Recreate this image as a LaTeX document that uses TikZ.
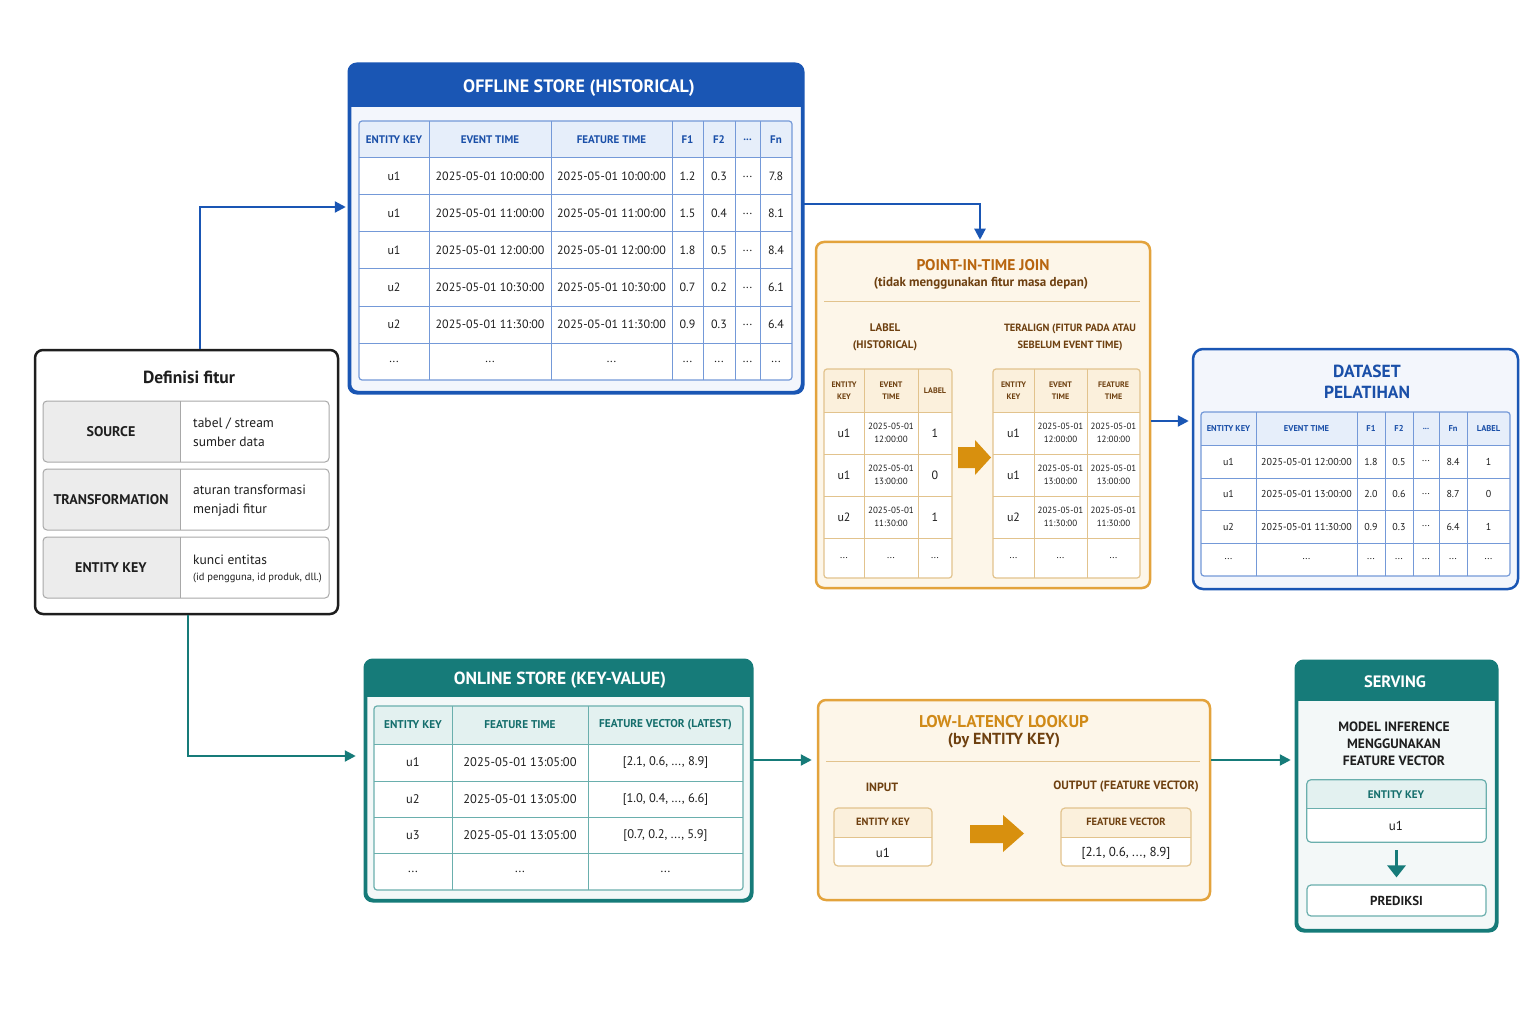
\documentclass[tikz,border=0pt]{standalone}
\usepackage{fontspec}
\setmainfont{PT Sans}
\usetikzlibrary{arrows.meta}
\definecolor{bluedk}{HTML}{1A56B4}
\definecolor{bluetx}{HTML}{1A4FA8}
\definecolor{bluegrid}{HTML}{7499D8}
\definecolor{bluehd}{HTML}{E6EEFA}
\definecolor{bluebg}{HTML}{F3F6FC}
\definecolor{tealdk}{HTML}{167B79}
\definecolor{tealtx}{HTML}{146E6C}
\definecolor{tealgrid}{HTML}{6AAFAD}
\definecolor{tealhd}{HTML}{E3F1F0}
\definecolor{tealbg}{HTML}{F3F8F8}
\definecolor{orbd}{HTML}{E3A33C}
\definecolor{ortitle}{HTML}{B8650F}
\definecolor{orlight}{HTML}{D08A18}
\definecolor{orbrown}{HTML}{6E4010}
\definecolor{orbg}{HTML}{FDF6E9}
\definecolor{orhd}{HTML}{FBF0DC}
\definecolor{orgrid}{HTML}{E2C38D}
\definecolor{orarrow}{HTML}{D8900E}
\definecolor{txt}{HTML}{1E1E1E}
\definecolor{grayc}{HTML}{ECECEC}
\definecolor{graygrid}{HTML}{A8A8A8}
\newcommand{\fz}[2]{\fontsize{#1}{#2}\selectfont}
\newcommand{\dd}{...}
% table grid: #1 grid colour, #2 header fill, #3 x1, #4 x2, #5 y1, #6 header bottom, #7 y2, #8 inner xs, #9 inner ys
\newcommand{\tgrid}[9]{%
  \fill[white,rounded corners=3] (#3,#5) rectangle (#4,#7);
  \begin{scope}\clip[rounded corners=3] (#3,#5) rectangle (#4,#7);
    \fill[#2] (#3,#5) rectangle (#4,#6);\end{scope}
  \foreach \xx in {#8} {\draw[#1,line width=1] (\xx,#5) -- (\xx,#7);}
  \foreach \yy in {#6,#9} {\draw[#1,line width=1] (#3,\yy) -- (#4,\yy);}
  \draw[#1,line width=1.2,rounded corners=3] (#3,#5) rectangle (#4,#7);}
% row of cell texts: #1 name prefix, #2 y, #3 style, #4 list x/text
\newcommand{\crow}[4]{\foreach \cx/\ct [count=\k] in {#4} {\node[#3] (#1-\k) at (\cx,#2) {\ct};}}
% header band of a box node: #1 node, #2 colour, #3 band height, #4 line width
\newcommand{\bandbox}[4]{%
  \begin{scope}\clip[rounded corners=8] (#1.north west) rectangle (#1.south east);
    \fill[#2] (#1.north west) rectangle ([yshift=-#3]#1.north east);\end{scope}
  \draw[#2,line width=#4,rounded corners=8] (#1.north west) rectangle (#1.south east);}
\begin{document}
\begin{tikzpicture}[x=1pt,y=-1pt,
  conn/.style={line width=2.2,-{Triangle[length=11,width=11]}},
  hblue/.style={inner sep=0,font=\bfseries\fz{11}{13},text=bluetx},
  hblues/.style={inner sep=0,font=\bfseries\fz{8.5}{10},text=bluetx},
  hteal/.style={inner sep=0,font=\bfseries\fz{11.3}{13},text=tealtx},
  horb/.style={inner sep=0,align=center,font=\bfseries\fz{8}{12},text=orbrown},
  c12/.style={inner sep=0,font=\fz{12}{14},text=txt},
  c125/.style={inner sep=0,font=\fz{12.5}{14},text=txt},
  c13/.style={inner sep=0,font=\fz{13}{15},text=txt},
  c10/.style={inner sep=0,font=\fz{10}{12},text=txt},
  c9/.style={inner sep=0,align=center,font=\fz{9}{13},text=txt},
  bigbox/.style={line width=2.5,rounded corners=8,inner sep=0}
]
\useasboundingbox (0,0) rectangle (1536,1024);
\fill[white] (0,0) rectangle (1536,1024);

% ---------------- Definisi fitur
\node[bigbox,draw=txt,fill=white,minimum width=303,minimum height=264] (def) at (186.5,482) {};
\node[font=\bfseries\fz{17.5}{20},text=txt] (deft) at (189,377) {Definisi fitur};
\foreach \ya/\yb [count=\r] in {401/462,469/530,537/598}{
  \begin{scope}\clip[rounded corners=4] (43,\ya) rectangle (329,\yb);
    \fill[white] (43,\ya) rectangle (329,\yb);
    \fill[grayc] (43,\ya) rectangle (180,\yb);\end{scope}
  \draw[graygrid,line width=1,rounded corners=4] (43,\ya) rectangle (329,\yb);
  \draw[graygrid,line width=1] (180,\ya) -- (180,\yb);
}
\node[font=\bfseries\fz{14}{16},text=txt] (dl1) at (111,431.5) {SOURCE};
\node[font=\bfseries\fz{14}{16},text=txt] (dl2) at (111,499.5) {TRANSFORMATION};
\node[font=\bfseries\fz{14}{16},text=txt] (dl3) at (111,567.5) {ENTITY KEY};
\node[anchor=west,inner sep=0,align=left,font=\fz{13.5}{19},text=txt] (dr1) at (193,432.5) {tabel / stream\\sumber data};
\node[anchor=west,inner sep=0,align=left,font=\fz{13.5}{19},text=txt] (dr2) at (193,500.5) {aturan transformasi\\menjadi fitur};
\node[anchor=west,inner sep=0,font=\fz{13.5}{15},text=txt] (dr3a) at (193,560) {kunci entitas};
\node[anchor=west,inner sep=0,font=\fz{10.5}{12},text=txt] (dr3b) at (193,578) {(id pengguna, id produk, dll.)};

% ---------------- Offline store
\node[bigbox,draw=bluedk,fill=bluebg,minimum width=452,minimum height=327] (offline) at (576,228.5) {};
\bandbox{offline}{bluedk}{43}{2.5}
\node[font=\bfseries\fz{18}{20},text=white] (offt) at (579,88) {OFFLINE STORE (HISTORICAL)};
\tgrid{bluegrid}{bluehd}{359}{792}{121}{158}{380}{429,551,672,703,735,760}{195,232,269,306,343}
\crow{offh}{139.5}{hblue}{394/ENTITY KEY,490/EVENT TIME,611.5/FEATURE TIME,687.5/F1,719/F2,747.5/\dd,776/Fn}
\crow{off1}{176.5}{c12}{394/u1,490/2025-05-01 10:00:00,611.5/2025-05-01 10:00:00,687.5/1.2,719/0.3,747.5/\dd,776/7.8}
\crow{off2}{213.5}{c12}{394/u1,490/2025-05-01 11:00:00,611.5/2025-05-01 11:00:00,687.5/1.5,719/0.4,747.5/\dd,776/8.1}
\crow{off3}{250.5}{c12}{394/u1,490/2025-05-01 12:00:00,611.5/2025-05-01 12:00:00,687.5/1.8,719/0.5,747.5/\dd,776/8.4}
\crow{off4}{287.5}{c12}{394/u2,490/2025-05-01 10:30:00,611.5/2025-05-01 10:30:00,687.5/0.7,719/0.2,747.5/\dd,776/6.1}
\crow{off5}{324.5}{c12}{394/u2,490/2025-05-01 11:30:00,611.5/2025-05-01 11:30:00,687.5/0.9,719/0.3,747.5/\dd,776/6.4}
\crow{off6}{361.5}{c12}{394/\dd,490/\dd,611.5/\dd,687.5/\dd,719/\dd,747.5/\dd,776/\dd}

% ---------------- Point-in-time join
\node[bigbox,draw=orbd,fill=orbg,minimum width=334,minimum height=346] (pit) at (983,415) {};
\node[font=\bfseries\fz{15.5}{18},text=ortitle] (pitt) at (983,265) {POINT-IN-TIME JOIN};
\node[font=\bfseries\fz{13}{14},text=orbrown] (pits) at (981,283) {(tidak menggunakan fitur masa depan)};
\draw[orgrid,line width=1] (824,301) -- (1140,301);
\node[align=center,font=\bfseries\fz{11}{17},text=orbrown] (pitl) at (885,337.5) {LABEL\\(HISTORICAL)};
\node[align=center,font=\bfseries\fz{10.5}{17},text=orbrown] (pitr) at (1070,337.5) {TERALIGN (FITUR PADA ATAU\\SEBELUM EVENT TIME)};
\tgrid{orgrid}{orhd}{824}{952}{369}{412}{578}{864,918}{454,496,538}
\tgrid{orgrid}{orhd}{993}{1140}{369}{412}{578}{1034,1087}{454,496,538}
\crow{plh}{390.5}{horb}{844/ENTITY\\KEY,891/EVENT\\TIME,935/LABEL}
\crow{prh}{390.5}{horb}{1013.5/ENTITY\\KEY,1060.5/EVENT\\TIME,1113.5/FEATURE\\TIME}
\crow{pl1}{433}{c12}{844/u1,935/1,1013.5/u1}
\crow{pl2}{475}{c12}{844/u1,935/0,1013.5/u1}
\crow{pl3}{517}{c12}{844/u2,935/1,1013.5/u2}
\crow{pd1}{433}{c9}{891/2025-05-01\\12:00:00,1060.5/2025-05-01\\12:00:00,1113.5/2025-05-01\\12:00:00}
\crow{pd2}{475}{c9}{891/2025-05-01\\13:00:00,1060.5/2025-05-01\\13:00:00,1113.5/2025-05-01\\13:00:00}
\crow{pd3}{517}{c9}{891/2025-05-01\\11:30:00,1060.5/2025-05-01\\11:30:00,1113.5/2025-05-01\\11:30:00}
\crow{pl4}{558}{c10}{844/\dd,891/\dd,935/\dd,1013.5/\dd,1060.5/\dd,1113.5/\dd}
\fill[orarrow] (958,447) -- (975,447) -- (975,440) -- (991,457.5) -- (975,475) -- (975,468) -- (958,468) -- cycle;

% ---------------- Dataset pelatihan
\node[line width=2.5,rounded corners=10,inner sep=0,draw=bluedk,fill=bluebg,minimum width=325,minimum height=240] (data) at (1355.5,469) {};
\node[align=center,font=\bfseries\fz{17.5}{21},text=bluetx] (datat) at (1367,381.5) {DATASET\\PELATIHAN};
\tgrid{bluegrid}{bluehd}{1201}{1510}{412}{445}{576}{1256,1357,1385,1413,1439,1467}{478,510,543}
\crow{dh}{428.5}{hblues}{1228.5/ENTITY KEY,1306.5/EVENT TIME,1371/F1,1399/F2,1426/\dd,1453/Fn,1488.5/LABEL}
\crow{d1}{461.5}{c10}{1228.5/u1,1306.5/2025-05-01 12:00:00,1371/1.8,1399/0.5,1426/\dd,1453/8.4,1488.5/1}
\crow{d2}{494}{c10}{1228.5/u1,1306.5/2025-05-01 13:00:00,1371/2.0,1399/0.6,1426/\dd,1453/8.7,1488.5/0}
\crow{d3}{526.5}{c10}{1228.5/u2,1306.5/2025-05-01 11:30:00,1371/0.9,1399/0.3,1426/\dd,1453/6.4,1488.5/1}
\crow{d4}{559.5}{c10}{1228.5/\dd,1306.5/\dd,1371/\dd,1399/\dd,1426/\dd,1453/\dd,1488.5/\dd}

% ---------------- Online store
\node[bigbox,draw=tealdk,fill=tealbg,minimum width=385,minimum height=239] (online) at (558.5,780.5) {};
\bandbox{online}{tealdk}{37}{2.5}
\node[font=\bfseries\fz{17.5}{20},text=white] (onlt) at (560,680) {ONLINE STORE (KEY-VALUE)};
\tgrid{tealgrid}{tealhd}{374}{743}{706}{744}{890}{452,588}{781,817,853}
\crow{onh}{725}{hteal}{413/ENTITY KEY,520/FEATURE TIME,665.5/FEATURE VECTOR (LATEST)}
\crow{on1}{762.5}{c125}{413/u1,520/2025-05-01 13:05:00,665.5/{[2.1, 0.6, \dd, 8.9]}}
\crow{on2}{799}{c125}{413/u2,520/2025-05-01 13:05:00,665.5/{[1.0, 0.4, \dd, 6.6]}}
\crow{on3}{835}{c125}{413/u3,520/2025-05-01 13:05:00,665.5/{[0.7, 0.2, \dd, 5.9]}}
\crow{on4}{871.5}{c125}{413/\dd,520/\dd,665.5/\dd}

% ---------------- Low-latency lookup
\node[bigbox,draw=orbd,fill=orbg,minimum width=392,minimum height=200] (look) at (1014,800) {};
\node[font=\bfseries\fz{17}{19},text=orlight] (lookt) at (1004,722) {LOW-LATENCY LOOKUP};
\node[font=\bfseries\fz{16}{18},text=orbrown] (looks) at (1004,741) {(by ENTITY KEY)};
\draw[orgrid,line width=1] (826,761) -- (1200,761);
\node[font=\bfseries\fz{12}{14},text=orbrown] (lin) at (882,787) {INPUT};
\node[font=\bfseries\fz{12}{14},text=orbrown] (lout) at (1126,787) {OUTPUT (FEATURE VECTOR)};
\foreach \xa/\xb in {834/932,1061/1191}{
  \fill[white,rounded corners=4] (\xa,808) rectangle (\xb,866);
  \begin{scope}\clip[rounded corners=4] (\xa,808) rectangle (\xb,866);
    \fill[orhd] (\xa,808) rectangle (\xb,837);\end{scope}
  \draw[orgrid,line width=1] (\xa,837) -- (\xb,837);
  \draw[orgrid,line width=1.2,rounded corners=4] (\xa,808) rectangle (\xb,866);
}
\node[font=\bfseries\fz{10.5}{12},text=orbrown] (linh) at (883,822) {ENTITY KEY};
\node[c13] (linv) at (883,853) {u1};
\node[font=\bfseries\fz{10.5}{12},text=orbrown] (louth) at (1126,822) {FEATURE VECTOR};
\node[c13] (loutv) at (1126,853) {[2.1, 0.6, \dd, 8.9]};
\fill[orarrow] (970,825) -- (1003,825) -- (1003,815) -- (1024,833.5) -- (1003,852) -- (1003,843) -- (970,843) -- cycle;

% ---------------- Serving
\node[bigbox,draw=tealdk,fill=tealbg,minimum width=199,minimum height=268] (serv) at (1396.5,796) {};
\bandbox{serv}{tealdk}{40}{2.5}
\node[font=\bfseries\fz{16.5}{19},text=white] (servt) at (1395,682) {SERVING};
\node[align=center,font=\bfseries\fz{13.5}{17},text=txt] (servm) at (1394,744) {MODEL INFERENCE\\MENGGUNAKAN\\FEATURE VECTOR};
\node[inner sep=0,minimum width=179,minimum height=62] (sent) at (1396.5,811) {};
\fill[white,rounded corners=4] (sent.north west) rectangle (sent.south east);
\begin{scope}\clip[rounded corners=4] (sent.north west) rectangle (sent.south east);
  \fill[tealhd] (sent.north west) rectangle ([yshift=-29]sent.north east);\end{scope}
\draw[tealgrid,line width=1] ([yshift=-29]sent.north west) -- ([yshift=-29]sent.north east);
\draw[tealgrid,line width=1.2,rounded corners=4] (sent.north west) rectangle (sent.south east);
\node[font=\bfseries\fz{11}{13},text=tealtx] (senth) at (1396,795) {ENTITY KEY};
\node[c13] (sentv) at (1396,826) {u1};
\node[draw=tealgrid,fill=white,line width=1.2,rounded corners=4,minimum width=179,minimum height=31,inner sep=0,font=\bfseries\fz{13}{15},text=txt] (pred) at (1396.5,900.5) {PREDIKSI};
\draw[tealdk,line width=3.5,-{Triangle[length=12,width=18]},shorten <=8,shorten >=7] (sent.south) -- (pred.north);

% ---------------- Connectors
\draw[conn,bluedk,shorten >=3] ([xshift=13.5]def.north) |- ([yshift=21.5]offline.west);
\draw[conn,tealdk,shorten >=9] ([xshift=1.5]def.south) |- ([yshift=24.5]online.west);
\draw[conn,bluedk,shorten >=1] ([yshift=24.5]offline.east) -| ([xshift=-3]pit.north);
\draw[conn,bluedk,shorten >=3] ([yshift=-6]pit.east) -- ([yshift=-6]pit.east -| data.west);
\draw[conn,tealdk,shorten >=5] ([yshift=20.5]online.east) -- ([yshift=20.5]online.east -| look.west);
\draw[conn,tealdk,shorten >=5] ([yshift=40]look.east) -- ([yshift=40]look.east -| serv.west);
\end{tikzpicture}
\end{document}
